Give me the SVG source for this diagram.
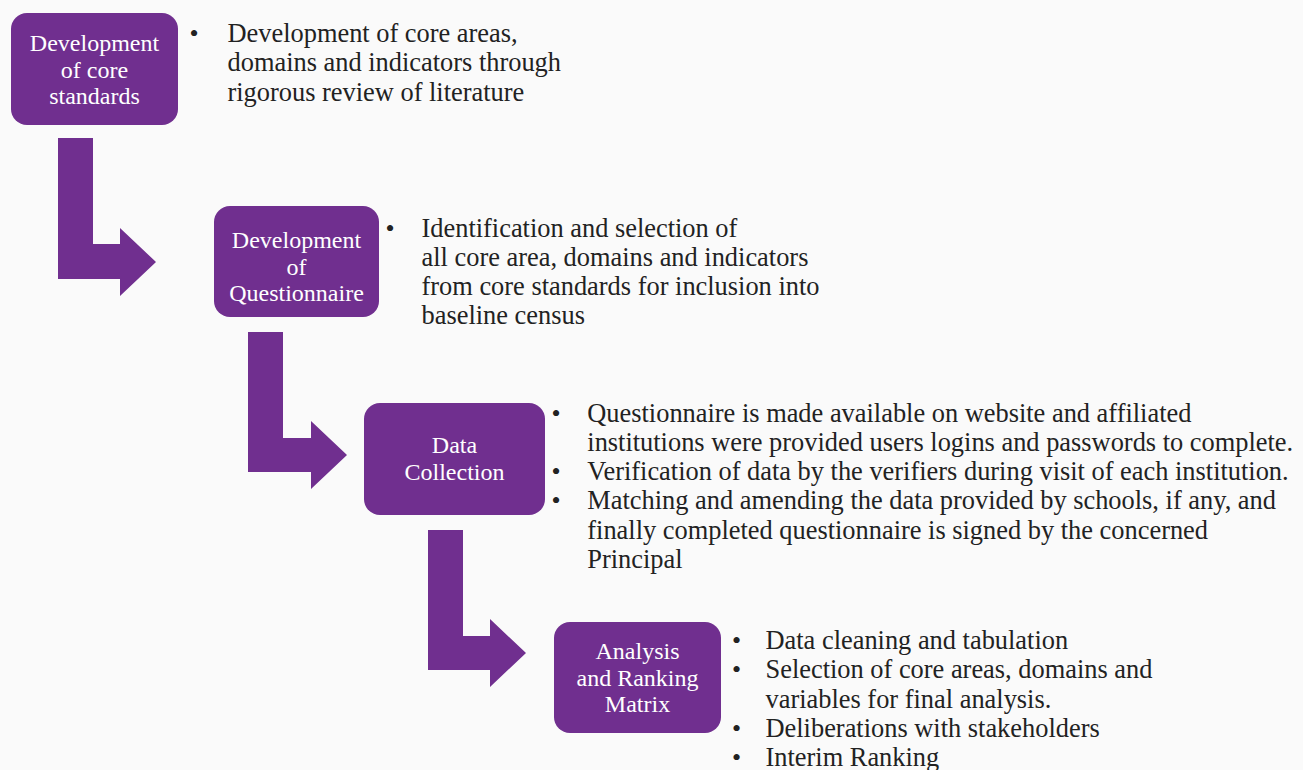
<svg xmlns="http://www.w3.org/2000/svg" width="1303" height="770" viewBox="0 0 1303 770">
<style>
.box{fill:#702F8F;}
.arrow{fill:#702F8F;}
.bt{font-family:"Liberation Serif","Times New Roman",serif;font-size:24px;fill:#ffffff;text-anchor:middle;}
.tx{font-family:"Liberation Serif","Times New Roman",serif;font-size:26.4px;fill:#222222;}
.bul{font-family:"Liberation Serif","Times New Roman",serif;font-size:26px;fill:#222222;text-anchor:middle;}
</style>
<rect width="1303" height="770" fill="#FAFAFA"/>
<g id="connectors">
<polygon class="arrow" points="58,138 93,138 93,244 120,244 120,228 156,262 120,296 120,279 58,279"/>
<polygon class="arrow" points="248,332 283,332 283,438 311,438 311,421 347,455 311,489 311,472 248,472"/>
<polygon class="arrow" points="428,530 463,530 463,636 490,636 490,619 526,653 490,687 490,670 428,670"/>
</g>
<g id="node1">
<rect class="box" x="11" y="13" width="167" height="112" rx="16"/>
<text class="bt" x="94.5"><tspan x="94.5" y="51">Development</tspan><tspan x="94.5" y="77.5">of core</tspan><tspan x="94.5" y="104">standards</tspan></text>
<text class="bul" x="194" y="41.5">•</text>
<text class="tx"><tspan x="227.5" y="41.5">Development of core areas,</tspan><tspan x="227.5" y="71">domains and indicators through</tspan><tspan x="227.5" y="100.5">rigorous review of literature</tspan></text>
</g>
<g id="node2">
<rect class="box" x="214" y="206" width="165" height="111" rx="16"/>
<text class="bt"><tspan x="296.5" y="248">Development</tspan><tspan x="296.5" y="274.5">of</tspan><tspan x="296.5" y="301">Questionnaire</tspan></text>
<text class="bul" x="390" y="236.5">•</text>
<text class="tx"><tspan x="421.5" y="236.5">Identification and selection of</tspan><tspan x="421.5" y="265.8">all core area, domains and indicators</tspan><tspan x="421.5" y="295">from core standards for inclusion into</tspan><tspan x="421.5" y="324.3">baseline census</tspan></text>
</g>
<g id="node3">
<rect class="box" x="364" y="403" width="181" height="112" rx="16"/>
<text class="bt"><tspan x="454.5" y="453">Data</tspan><tspan x="454.5" y="479.5">Collection</tspan></text>
<text class="bul"><tspan x="556" y="421.5">•</tspan><tspan x="556" y="480">•</tspan><tspan x="556" y="509.3">•</tspan></text>
<text class="tx"><tspan x="587.3" y="421.5">Questionnaire is made available on website and affiliated</tspan><tspan x="587.3" y="450.8">institutions were provided users logins and passwords to complete.</tspan><tspan x="587.3" y="480">Verification of data by the verifiers during visit of each institution.</tspan><tspan x="587.3" y="509.3">Matching and amending the data provided by schools, if any, and</tspan><tspan x="587.3" y="538.6">finally completed questionnaire is signed by the concerned</tspan><tspan x="587.3" y="567.9">Principal</tspan></text>
</g>
<g id="node4">
<rect class="box" x="554" y="622" width="167" height="111" rx="16"/>
<text class="bt"><tspan x="637.5" y="659">Analysis</tspan><tspan x="637.5" y="685.5">and Ranking</tspan><tspan x="637.5" y="712">Matrix</tspan></text>
<text class="bul"><tspan x="736.5" y="649">•</tspan><tspan x="736.5" y="678.3">•</tspan><tspan x="736.5" y="736.9">•</tspan><tspan x="736.5" y="766.2">•</tspan></text>
<text class="tx"><tspan x="765.5" y="649">Data cleaning and tabulation</tspan><tspan x="765.5" y="678.3">Selection of core areas, domains and</tspan><tspan x="765.5" y="707.6">variables for final analysis.</tspan><tspan x="765.5" y="736.9">Deliberations with stakeholders</tspan><tspan x="765.5" y="766.2">Interim Ranking</tspan></text>
</g>
</svg>
